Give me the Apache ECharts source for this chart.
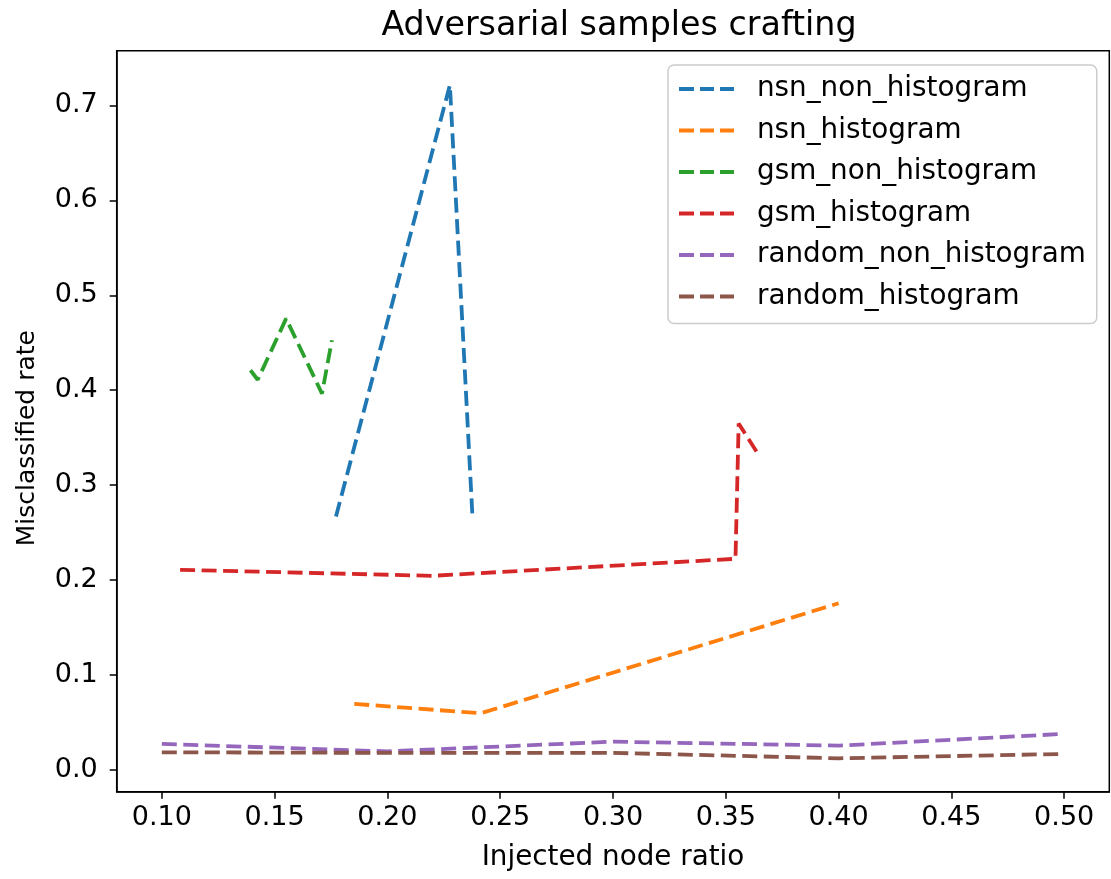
<!DOCTYPE html>
<html>
<head>
<meta charset="utf-8">
<title>Adversarial samples crafting</title>
<script src="https://cdn.jsdelivr.net/npm/echarts@6/dist/echarts.min.js"></script>
<style>
  html, body { margin: 0; padding: 0; background: #fff; }
  #chart { width: 1111px; height: 879px; }
</style>
</head>
<body>
<div id="chart"></div>
<script>
// series data (x = injected node ratio, y = misclassified rate)
const nsnNonHistX = [0.1772, 0.2277, 0.2377];
const nsnNonHistY = [0.267, 0.7214, 0.267];

const nsnHistX = [0.1853, 0.2414, 0.40];
const nsnHistY = [0.0696, 0.0597, 0.1756];

const gsmNonHistX = [0.1393, 0.1425, 0.1551, 0.1710, 0.1754];
const gsmNonHistY = [0.421, 0.411, 0.4754, 0.3964, 0.4526];

const gsmHistX = [0.1081, 0.2200, 0.3543, 0.3557, 0.3636];
const gsmHistY = [0.2108, 0.2045, 0.2224, 0.3648, 0.3355];

const randNonHistX = [0.10, 0.20, 0.30, 0.40, 0.50];
const randNonHistY = [0.0274, 0.0196, 0.0298, 0.0256, 0.038];

const randHistX = [0.10, 0.20, 0.30, 0.40, 0.50];
const randHistY = [0.0186, 0.018, 0.018, 0.0123, 0.0169];

const xTicks = [0.10, 0.15, 0.20, 0.25, 0.30, 0.35, 0.40, 0.45, 0.50];
const yTicks = [0.0, 0.1, 0.2, 0.3, 0.4, 0.5, 0.6, 0.7];

const seriesNames = ['nsn_non_histogram', 'nsn_histogram', 'gsm_non_histogram',
                     'gsm_histogram', 'random_non_histogram', 'random_histogram'];
const seriesColors = ['#1f77b4', '#ff7f0e', '#2ca02c', '#d62728', '#9467bd', '#8c564b'];
const seriesXs = [nsnNonHistX, nsnHistX, gsmNonHistX, gsmHistX, randNonHistX, randHistX];
const seriesYs = [nsnNonHistY, nsnHistY, gsmNonHistY, gsmHistY, randNonHistY, randHistY];

const FONT = 'DejaVu Sans';
// three short dashes, like the matplotlib legend handle
const DASH_ICON = 'path://M0,0h15v4h-15zM21,0h14v4h-14zM41,0h14v4h-14z';

function pairs(xs, ys) {
  return xs.map((x, i) => [x, ys[i]]);
}

let my_chart = echarts.init(document.getElementById('chart'), null, { renderer: 'canvas' });
my_chart.setOption({
  animation: false,
  backgroundColor: '#fff',
  textStyle: { fontFamily: FONT, color: '#000' },
  title: {
    text: 'Adversarial samples crafting',
    left: 614,
    textAlign: 'center',
    top: 5,
    textStyle: { fontFamily: FONT, fontSize: 33.3, fontWeight: 'normal', color: '#000' }
  },
  grid: {
    left: 116.7,
    right: 1.7,
    top: 50.7,
    bottom: 87.3,
    show: true,
    borderColor: '#000',
    borderWidth: 1.5,
    containLabel: false,
    outerBoundsMode: 'none'
  },
  legend: {
    orient: 'vertical',
    left: 668,
    top: 65,
    padding: [9, 11, 12, 11],
    icon: DASH_ICON,
    itemWidth: 55,
    itemHeight: 4,
    itemGap: 11.5,
    backgroundColor: 'rgba(255,255,255,0.8)',
    borderColor: '#cccccc',
    borderWidth: 1.5,
    borderRadius: 6,
    textStyle: { fontFamily: FONT, fontSize: 27.8, color: '#000', padding: [0, 0, 0, 18], lineHeight: 30 },
    data: seriesNames
  },
  xAxis: {
    type: 'value',
    min: 0.08,
    max: 0.52,
    name: 'Injected node ratio',
    nameLocation: 'middle',
    nameGap: 52,
    nameTextStyle: { fontFamily: FONT, fontSize: 27.8, color: '#000' },
    axisLine: { show: true, onZero: false, lineStyle: { color: '#000', width: 1.5 } },
    splitLine: { show: false },
    axisTick: { show: true, inside: false, length: 7, customValues: xTicks,
                lineStyle: { color: '#000', width: 1.5 } },
    axisLabel: { show: true, margin: 13, customValues: xTicks, fontFamily: FONT, fontSize: 27, color: '#000',
                 formatter: v => v.toFixed(2) }
  },
  yAxis: {
    type: 'value',
    min: -0.0229,
    max: 0.7576,
    name: 'Misclassified rate',
    nameLocation: 'middle',
    nameGap: 77,
    nameTextStyle: { fontFamily: FONT, fontSize: 25, color: '#000', padding: [0, 34, 0, 0] },
    axisLine: { show: true, onZero: false, lineStyle: { color: '#000', width: 1.5 } },
    splitLine: { show: false },
    axisTick: { show: true, inside: false, length: 7, customValues: yTicks,
                lineStyle: { color: '#000', width: 1.5 } },
    axisLabel: { show: true, margin: 19, customValues: yTicks, fontFamily: FONT, fontSize: 27, color: '#000',
                 formatter: v => v.toFixed(1) }
  },
  series: seriesNames.map((name, i) => ({
    name: name,
    type: 'line',
    data: pairs(seriesXs[i], seriesYs[i]),
    symbol: 'none',
    color: seriesColors[i],
    lineStyle: { color: seriesColors[i], width: 3.8, type: [15, 6.5], cap: 'butt' }
  }))
});
</script>
</body>
</html>
